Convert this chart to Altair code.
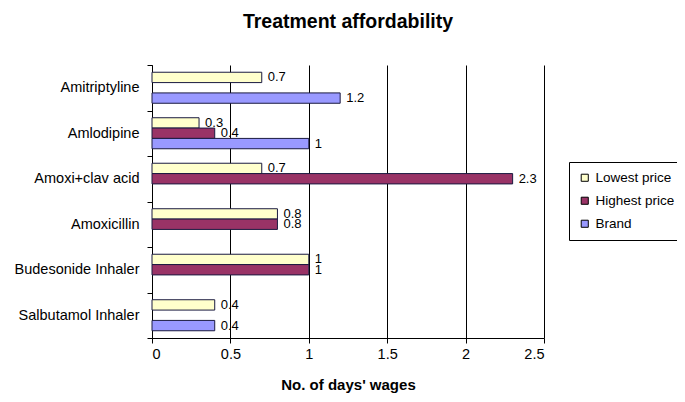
import altair as alt
import pandas as pd

categories = ["Amitriptyline", "Amlodipine", "Amoxi+clav acid", "Amoxicillin",
              "Budesonide Inhaler", "Salbutamol Inhaler"]
series = ["Lowest price", "Highest price", "Brand"]
lowest = [0.7, 0.3, 0.7, 0.8, 1, 0.4]
highest = [None, 0.4, 2.3, 0.8, 1, None]
brand = [1.2, 1, None, None, None, 0.4]
colors = ["#FFFFCC", "#993366", "#9999FF"]

rows = []
for s, vals in zip(series, [lowest, highest, brand]):
    for c, v in zip(categories, vals):
        if v is not None:
            rows.append({"drug": c, "series": s, "value": v})
df = pd.DataFrame(rows)

FONT = "Liberation Sans"

y = alt.Y("drug:N", sort=categories, title=None,
          scale=alt.Scale(paddingInner=0, paddingOuter=0),
          axis=alt.Axis(tickBand="extent", labelFontSize=14.5, labelColor="black",
                        labelFont=FONT, tickColor="black", domainColor="black",
                        tickSize=5, labelPadding=8, grid=False))
yoff = alt.YOffset("series:N", sort=series,
                   scale=alt.Scale(domain=series, paddingInner=0, paddingOuter=0.7))
x = alt.X("value:Q", title="No. of days' wages",
          scale=alt.Scale(domain=[0, 2.5], nice=False),
          axis=alt.Axis(values=[0, 0.5, 1, 1.5, 2, 2.5], format="~g",
                        labelFontSize=14.5, labelColor="black", labelFont=FONT,
                        titleFont=FONT, titleFontSize=15, titleFontWeight="bold",
                        titleColor="black", titlePadding=17,
                        tickColor="black", domainColor="black", tickSize=5,
                        gridColor="black", gridOpacity=1, gridWidth=1, labelPadding=4))

bars = alt.Chart(df).mark_bar(stroke="#1a1a40", strokeWidth=1).encode(
    x=x, y=y, yOffset=yoff,
    color=alt.Color("series:N", sort=series,
                    scale=alt.Scale(domain=series, range=colors),
                    legend=alt.Legend(title=None, orient="none", legendX=417, legendY=97,
                                      strokeColor="black", fillColor="white",
                                      padding=9, labelFontSize=13.5, labelFont=FONT,
                                      labelColor="black", symbolType="square",
                                      symbolSize=50, symbolStrokeColor="black",
                                      symbolStrokeWidth=1, rowPadding=8, labelOffset=4))
)

labels = alt.Chart(df).mark_text(align="left", baseline="middle", dx=6,
                                 fontSize=13, font=FONT, color="black").encode(
    x="value:Q", y=alt.Y("drug:N", sort=categories), yOffset=yoff,
    text=alt.Text("value:Q", format=".1~f")
)

chart = (bars + labels).properties(
    width=392, height=273,
    title=alt.Title("Treatment affordability", font=FONT, fontSize=19.5,
                    fontWeight="bold", color="black", offset=25, anchor="middle"),
    autosize=alt.AutoSizeParams(type="none"),
    padding={"left": 144, "top": 57, "right": 133, "bottom": 56},
).configure_view(stroke=None).configure_axisY(grid=False)

chart.save("out.html", embed_options={"renderer": "svg", "actions": False})
